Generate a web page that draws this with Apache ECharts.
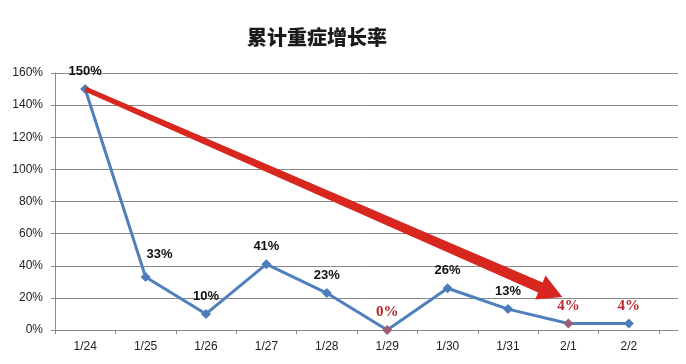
<!DOCTYPE html>
<html>
<head>
<meta charset="utf-8">
<script src="https://cdn.jsdelivr.net/npm/echarts@6/dist/echarts.min.js"></script>
<style>
html,body{margin:0;padding:0;background:#fff;}
#c{width:686px;height:364px;}
</style>
</head>
<body>
<div id="c"></div>
<script>
var titleText = '累计重症增长率';
var categories = ['1/24','1/25','1/26','1/27','1/28','1/29','1/30','1/31','2/1','2/2'];
var values = [150, 33, 10, 41, 23, 0, 26, 13, 4, 4];
var redLabelIdx = [5, 8, 9];
var mauveMarkerIdx = [5, 8];
var arrowStart = [0, 150];
var arrowEnd = [7.9, 20.5];

var seriesData = values.map(function (v, i) {
  var d = { value: v };
  var red = redLabelIdx.indexOf(i) >= 0;
  d.label = red ? { color: '#B5262E', fontFamily: 'Liberation Serif', fontWeight: 'bold', fontSize: 15, distance: 5 } : {};
  if (i === 1) d.label.offset = [14, -5];
  if (mauveMarkerIdx.indexOf(i) >= 0) d.itemStyle = { color: '#9E5B76' };
  return d;
});

var chart = echarts.init(document.getElementById('c'));
chart.setOption({
  backgroundColor: '#fff',
  animation: false,
  title: {
    text: titleText, left: 242, top: 22,
    textStyle: { fontFamily: 'Noto Sans CJK SC', fontSize: 20, fontWeight: 900, color: '#1a1a1a' }
  },
  grid: [
    { left: 55, right: 8, top: 73, bottom: 34 },
    { left: 55, width: 604, top: 73, bottom: 34 }
  ],
  xAxis: [
    { gridIndex: 0, type: 'value', min: 0, max: 1, axisLine: { show: true, lineStyle: { color: '#8a8a8a' } },
      axisTick: { show: false }, axisLabel: { show: false }, splitLine: { show: false } },
    { gridIndex: 1, type: 'category', data: categories, boundaryGap: true,
      axisLine: { show: false }, axisTick: { show: true, length: 4, lineStyle: { color: '#8a8a8a' } },
      axisLabel: { margin: 11, color: '#222', fontFamily: 'Liberation Sans', fontSize: 12 } }
  ],
  yAxis: [
    { gridIndex: 0, type: 'value', min: 0, max: 160, interval: 20,
      axisLine: { show: true, lineStyle: { color: '#8a8a8a' } },
      axisTick: { show: true, length: 4, lineStyle: { color: '#8a8a8a' } },
      axisLabel: { formatter: '{value}%', margin: 12, color: '#222', fontFamily: 'Liberation Sans', fontSize: 12 },
      splitLine: { show: true, lineStyle: { color: '#8a8a8a', width: 1 } } },
    { gridIndex: 1, type: 'value', min: 0, max: 160, interval: 20, show: false }
  ],
  series: [{
    type: 'line', xAxisIndex: 1, yAxisIndex: 1,
    data: seriesData,
    symbol: 'diamond', symbolSize: 10,
    lineStyle: { color: '#4F80BC', width: 3 },
    itemStyle: { color: '#4A7DBA' },
    label: { show: true, position: 'top', distance: 6, formatter: '{c}%',
      color: '#111', fontFamily: 'Liberation Sans', fontWeight: 'bold', fontSize: 13 },
    z: 3
  }]
});

function toPx(pt) {
  var i0 = Math.floor(pt[0]), f = pt[0] - i0;
  var a = chart.convertToPixel({ seriesIndex: 0 }, [i0, pt[1]]);
  if (f === 0) return a;
  var b = chart.convertToPixel({ seriesIndex: 0 }, [i0 + 1, pt[1]]);
  return [a[0] + (b[0] - a[0]) * f, a[1]];
}
var S = toPx(arrowStart), T = toPx(arrowEnd);
var dx = T[0] - S[0], dy = T[1] - S[1], L = Math.sqrt(dx * dx + dy * dy);
var ux = dx / L, uy = dy / L, nx = -uy, ny = ux;
var headLen = 24, headHalf = 13, w0 = 2.5, w1 = 5.5;
var B = [T[0] - ux * headLen, T[1] - uy * headLen];
var pts = [
  [S[0] + nx * w0, S[1] + ny * w0],
  [B[0] + nx * w1, B[1] + ny * w1],
  [B[0] + nx * headHalf, B[1] + ny * headHalf],
  [T[0], T[1]],
  [B[0] - nx * headHalf, B[1] - ny * headHalf],
  [B[0] - nx * w1, B[1] - ny * w1],
  [S[0] - nx * w0, S[1] - ny * w0]
];
chart.setOption({
  graphic: [{ type: 'polygon', z: 10, shape: { points: pts }, style: { fill: '#D8271E' }, silent: true }]
});
</script>
</body>
</html>
